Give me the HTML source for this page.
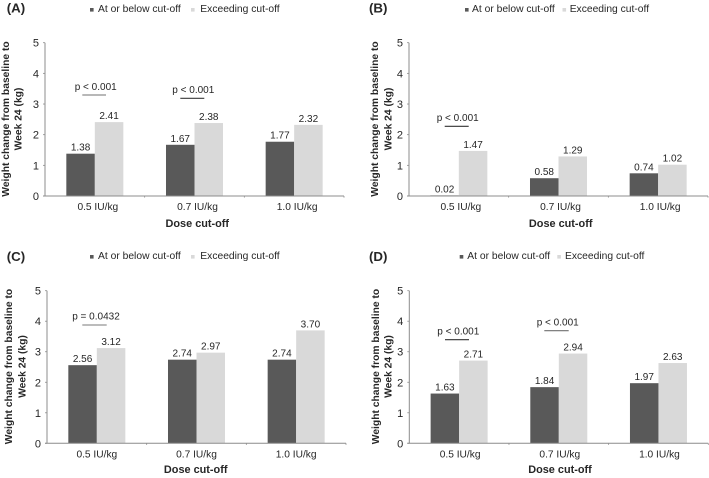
<!DOCTYPE html>
<html lang="en">
<head>
<meta charset="utf-8">
<title>Weight change from baseline to Week 24 by dose cut-off</title>
<style>
html,body{margin:0;padding:0;background:#fff;width:709px;height:478px;overflow:hidden}
svg{display:block;filter:blur(0.3px)}
text{font-family:"Liberation Sans",sans-serif;fill:#262626}
</style>
</head>
<body>
<svg id="figure" xmlns="http://www.w3.org/2000/svg" width="709" height="478" viewBox="0 0 709 478"></svg>
<script>
const categories = ['0.5 IU/kg', '0.7 IU/kg', '1.0 IU/kg'];
const yTickLabels = [0, 1, 2, 3, 4, 5];
const seriesNames = ['At or below cut-off', 'Exceeding cut-off'];
const panelABelow = [1.38, 1.67, 1.77];
const panelAExceeding = [2.41, 2.38, 2.32];
const panelBBelow = [0.02, 0.58, 0.74];
const panelBExceeding = [1.47, 1.29, 1.02];
const panelCBelow = [2.56, 2.74, 2.74];
const panelCExceeding = [3.12, 2.97, 3.70];
const panelDBelow = [1.63, 1.84, 1.97];
const panelDExceeding = [2.71, 2.94, 2.63];

const DARK = '#595959', LIGHT = '#d9d9d9', AXIS = '#8c8c8c';
const NS = 'http://www.w3.org/2000/svg';
const svg = document.getElementById('figure');

const panels = [
  {id:'a', title:'(A)', below:panelABelow, exceeding:panelAExceeding,
   axisX:45, right:344, y0:196, y5:42.7, labelX:6.7, labelY:12.7,
   titleX:[9,21.5], titleY:119, catShift:3, doseX:197.3, doseY:227,
   legendY:12, sw1:90, txt1:98, sw2:191, txt2:200.3,
   notes:[{t:'p < 0.001', x:95.7, y:90, x1:82.3, x2:106, ly:95, c:'#707070'},
          {t:'p < 0.001', x:193.3, y:93, x1:180.3, x2:204.3, ly:98.3, c:'#3a3a3a'}]},
  {id:'b', title:'(B)', below:panelBBelow, exceeding:panelBExceeding,
   axisX:409, right:708, y0:196, y5:42.7, labelX:369, labelY:12.7,
   titleX:[378,391.7], titleY:119, catShift:2, doseX:560.7, doseY:227,
   legendY:12, sw1:465, txt1:472, sw2:562.5, txt2:569.7,
   notes:[{t:'p < 0.001', x:457.7, y:121, x1:444.7, x2:468.7, ly:126.3, c:'#333'}]},
  {id:'c', title:'(C)', below:panelCBelow, exceeding:panelCExceeding,
   axisX:47, right:346, y0:443.3, y5:290.7, labelX:6.7, labelY:261,
   titleX:[12,25.6], titleY:366.5, catShift:0, doseX:195.7, doseY:473,
   legendY:259, sw1:90, txt1:98, sw2:191, txt2:200.3,
   notes:[{t:'p = 0.0432', x:96, y:319.7, x1:82.3, x2:106.7, ly:325, c:'#7a7a7a'}]},
  {id:'d', title:'(D)', below:panelDBelow, exceeding:panelDExceeding,
   axisX:409.3, right:708.3, y0:443.3, y5:290.7, labelX:369, labelY:261,
   titleX:[379,391.7], titleY:366.5, catShift:1, doseX:560, doseY:473,
   legendY:259, sw1:459.7, txt1:467.3, sw2:557.3, txt2:565,
   notes:[{t:'p < 0.001', x:458.3, y:334.7, x1:445, x2:469, ly:339.7, c:'#333'},
          {t:'p < 0.001', x:557.7, y:325.7, x1:544.3, x2:568.7, ly:330.7, c:'#707070'}]}
];

function make(tag, attrs, content, parent) {
  const el = document.createElementNS(NS, tag);
  for (const k in attrs) el.setAttribute(k, attrs[k]);
  if (content !== null && content !== undefined) el.textContent = content;
  (parent || svg).appendChild(el);
  return el;
}
function yScale(p, v) { return p.y0 - v * (p.y0 - p.y5) / 5; }
function catWidth(p) { return (p.right - p.axisX) / categories.length; }
function xCenter(p, i) { return p.axisX + catWidth(p) * (i + 0.5); }

panels.forEach(function (p) {
  const g = make('g', {});
  
  

  const label = make('text', {x:p.labelX, y:p.labelY, 'font-size':13.3, 'font-weight':'bold', fill:'#1a1a1a'}, p.title, g);
  
  

  // legend
  const sw1 = make('rect', {x:p.sw1, y:p.legendY - 4, width:3.6, height:3.6, fill:DARK}, null, g);
  
  
  const tx1 = make('text', {x:p.txt1, y:p.legendY, 'font-size':10.3, fill:'#333'}, seriesNames[0], g);
  
  
  const sw2 = make('rect', {x:p.sw2, y:p.legendY - 4, width:3.6, height:3.6, fill:LIGHT}, null, g);
  
  
  const tx2 = make('text', {x:p.txt2, y:p.legendY, 'font-size':10.3, fill:'#333'}, seriesNames[1], g);
  
  

  // bars and value labels
  const barW = catWidth(p) * 0.286;
  categories.forEach(function (cat, i) {
    const cx = xCenter(p, i);
    [[p.below[i], cx - barW, DARK, 'below'], [p.exceeding[i], cx, LIGHT, 'exceeding']].forEach(function (b) {
      const top = yScale(p, b[0]);
      const bar = make('rect', {x:b[1], y:top, width:barW, height:p.y0 - top, fill:b[2]}, null, g);
      
      
      const val = make('text', {x:b[1] + barW / 2, y:top - 3, 'font-size':10, 'text-anchor':'middle'}, b[0].toFixed(2), g);
      
      
    });
    const tick = make('text', {x:cx + p.catShift, y:p.y0 + 14, 'font-size':10.2, 'text-anchor':'middle'}, cat, g);
    
    
  });

  // axes
  const yAxis = make('line', {x1:p.axisX, x2:p.axisX, y1:p.y5, y2:p.y0, stroke:AXIS, 'stroke-width':1}, null, g);
  
  
  const xAxis = make('line', {x1:p.axisX - 2, x2:p.right, y1:p.y0, y2:p.y0, stroke:AXIS, 'stroke-width':1}, null, g);
  
  
  for (let i = 1; i <= categories.length; i++) {
    const tx = p.axisX + catWidth(p) * i;
    const mark = make('line', {x1:tx, x2:tx, y1:p.y0, y2:p.y0 + 1.6, stroke:AXIS, 'stroke-width':0.8}, null, g);
    
    
  }
  yTickLabels.forEach(function (v) {
    const y = yScale(p, v);
    const mark = make('line', {x1:p.axisX - 2, x2:p.axisX, y1:y, y2:y, stroke:AXIS, 'stroke-width':0.8}, null, g);
    
    
    const t = make('text', {x:p.axisX - 6, y:y + 4, 'font-size':11, 'text-anchor':'end'}, String(v), g);
    
    
  });

  // axis titles
  ['Weight change from baseline to', 'Week 24 (kg)'].forEach(function (line, i) {
    const t = make('text', {x:p.titleX[i], y:p.titleY, 'font-size':10.3, 'font-weight':'bold', 'text-anchor':'middle',
      transform:'rotate(-90 ' + p.titleX[i] + ' ' + p.titleY + ')'}, line, g);
    
    
  });
  const dose = make('text', {x:p.doseX, y:p.doseY, 'font-size':10.9, 'font-weight':'bold', 'text-anchor':'middle'}, 'Dose cut-off', g);
  
  

  // significance annotations
  p.notes.forEach(function (n, i) {
    const t = make('text', {x:n.x, y:n.y, 'font-size':10, 'text-anchor':'middle'}, n.t, g);
    
    
    const l = make('line', {x1:n.x1, x2:n.x2, y1:n.ly, y2:n.ly, stroke:n.c, 'stroke-width':1.1}, null, g);
    
    
  });
});
</script>
</body>
</html>
